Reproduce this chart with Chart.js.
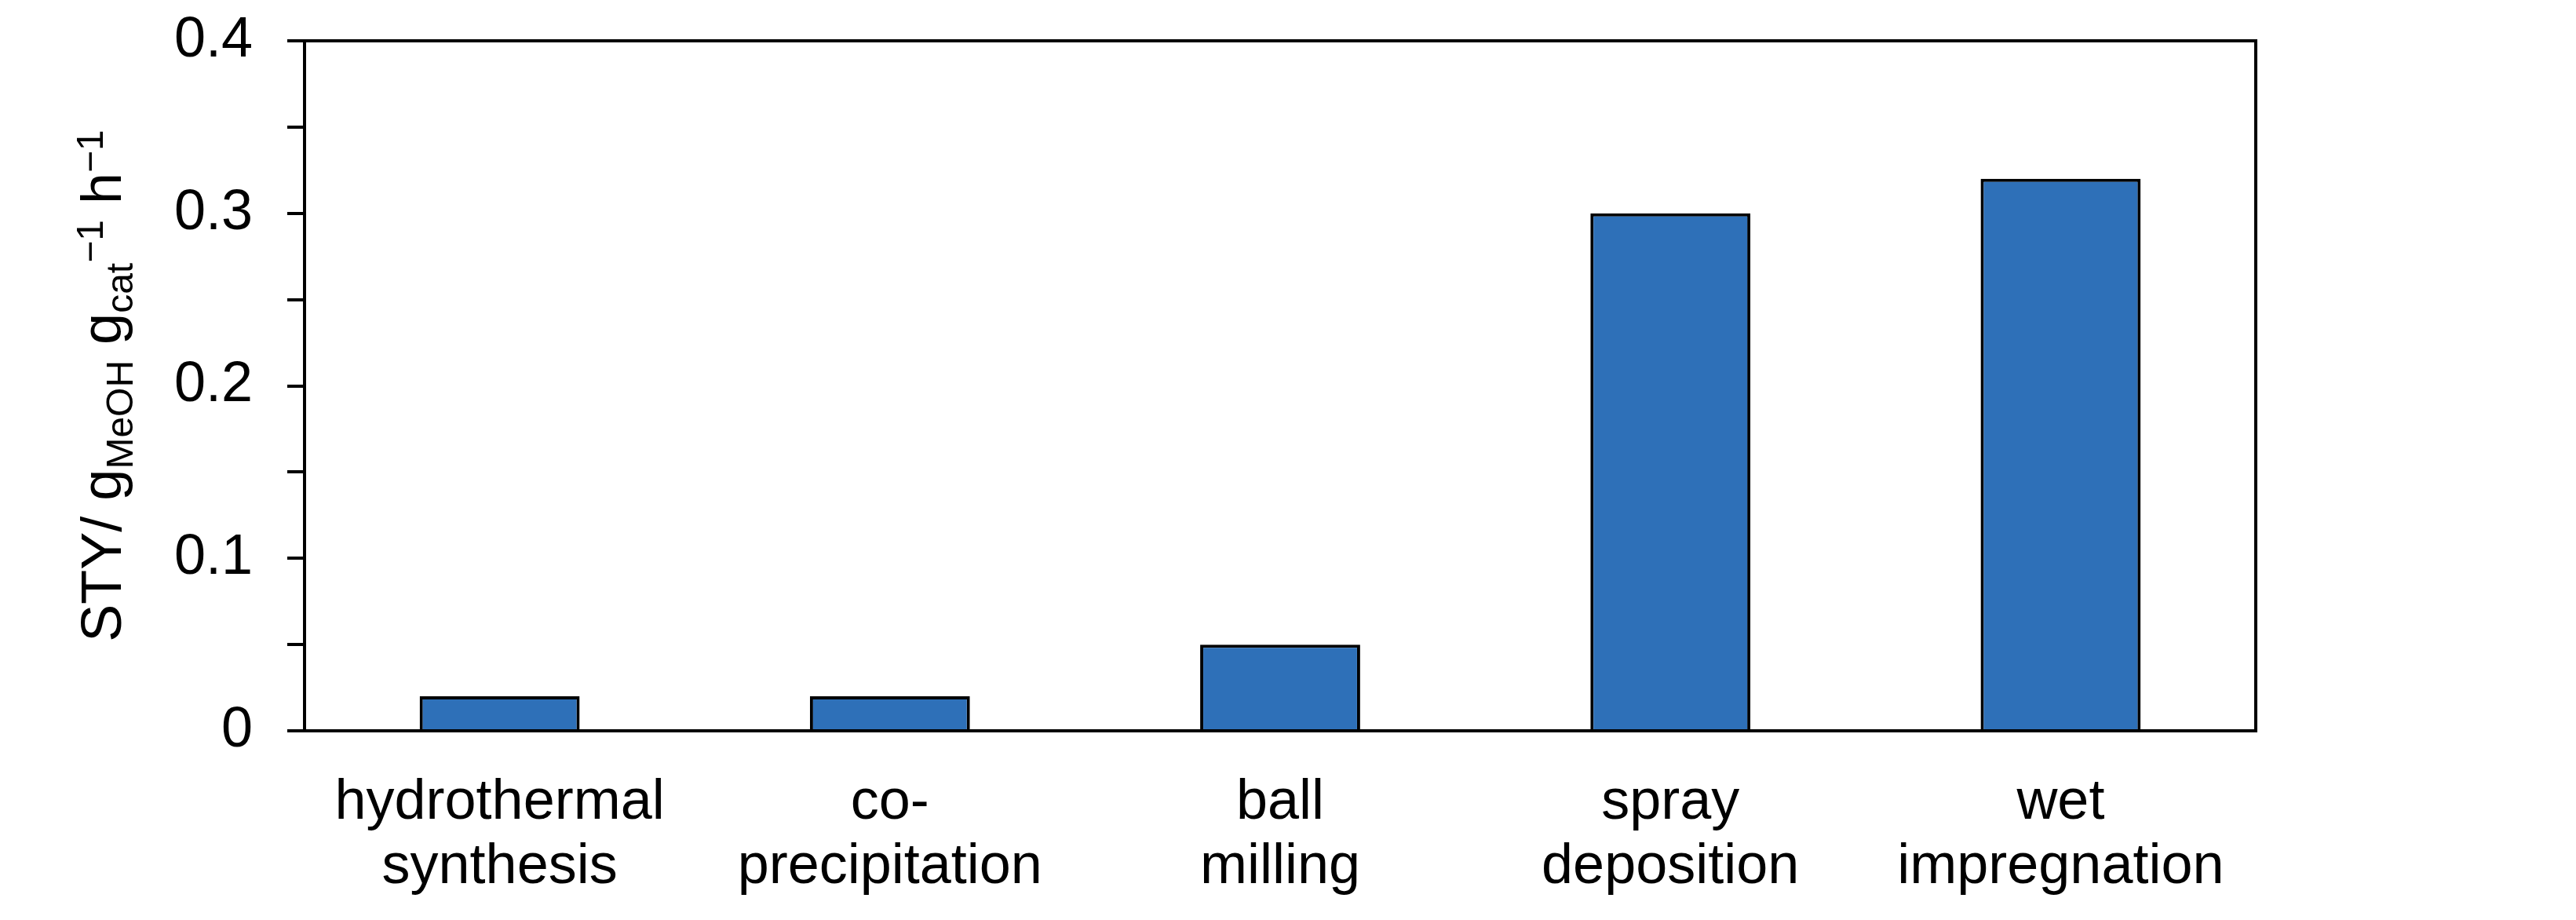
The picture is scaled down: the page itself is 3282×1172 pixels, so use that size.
<!DOCTYPE html>
<html>
<head>
<meta charset="utf-8">
<title>STY by synthesis method</title>
<script src="https://cdn.jsdelivr.net/npm/chart.js@4/dist/chart.umd.min.js"></script>
<style>
    html, body { margin: 0; padding: 0; background: #fff; }
    canvas { display: block; }
</style>
</head>
<body>
<canvas id="styChart" width="3282" height="1172"></canvas>
<script>
/* ── Data ─────────────────────────────────────────────────────── */
const methods = [
    ['hydrothermal', 'synthesis'],
    ['co-', 'precipitation'],
    ['ball', 'milling'],
    ['spray', 'deposition'],
    ['wet', 'impregnation']
];
const styValues  = [0.02, 0.02, 0.05, 0.30, 0.32];
const yMin       = 0;
const yMax       = 0.4;
const yStep      = 0.05;   // every tick mark
const yLabelStep = 0.1;    // only these get a label

const FONT = "'Liberation Sans', Arial, sans-serif";

/* ── Plot frame (box around the chart area) ───────────────────── */
const frame = {
    id: 'frame',
    afterDatasetsDraw(chart) {
        const { ctx, chartArea: a } = chart;
        ctx.save();
        ctx.strokeStyle = '#000';
        ctx.lineWidth = 4;
        ctx.strokeRect(a.left, a.top, a.right - a.left, a.bottom - a.top);
        ctx.restore();
    }
};

/* ── Y title with sub- and superscripts ───────────────────────── */
const yTitle = {
    id: 'yTitle',
    afterDraw(chart) {
        const { ctx, chartArea: a } = chart;
        const big = '72px ' + FONT, small = '48px ' + FONT;
        const parts = [
            { t: 'STY/ g', f: big,   dy: 0 },
            { t: 'MeOH',   f: small, dy: 15 },
            { t: ' g',     f: big,   dy: 0 },
            { t: 'cat',    f: small, dy: 15 },
            { t: '\u22121', f: small, dy: -23 },
            { t: ' h',     f: big,   dy: 0 },
            { t: '\u22121', f: small, dy: -23 }
        ];
        ctx.save();
        let total = 0;
        parts.forEach(p => { ctx.font = p.f; p.w = ctx.measureText(p.t).width; total += p.w; });
        ctx.translate(154, (a.top + a.bottom) / 2);
        ctx.rotate(-Math.PI / 2);
        ctx.fillStyle = '#000';
        ctx.textBaseline = 'alphabetic';
        ctx.textAlign = 'left';
        let x = -total / 2;
        parts.forEach(p => {
            ctx.font = p.f;
            ctx.fillText(p.t, x, p.dy);
            x += p.w;
        });
        ctx.restore();
    }
};

/* ── Chart ────────────────────────────────────────────────────── */
new Chart(document.getElementById('styChart'), {
    type: 'bar',
    data: {
        labels: methods,
        datasets: [{
            data: styValues,
            backgroundColor: '#2e70b8',
            borderColor: '#000',
            borderWidth: 4,
            categoryPercentage: 1,
            barPercentage: 0.41
        }]
    },
    options: {
        responsive: false,
        animation: false,
        devicePixelRatio: 1,
        layout: { padding: { top: 52, right: 408, left: 0, bottom: 0 } },
        plugins: {
            legend: { display: false },
            tooltip: { enabled: false }
        },
        scales: {
            x: {
                grid: { display: false, drawTicks: false },
                border: { display: false },
                ticks: {
                    color: '#000',
                    font: { family: FONT, size: 72, lineHeight: 1.14 },
                    padding: 51,
                    maxRotation: 0,
                    autoSkip: false
                },
                afterFit: s => { s.height = 241; s.paddingLeft = 0; s.paddingRight = 0; }
            },
            y: {
                min: yMin,
                max: yMax,
                border: { display: false },
                grid: {
                    drawOnChartArea: false,
                    drawTicks: true,
                    tickLength: 22,
                    color: '#000',
                    lineWidth: 4
                },
                ticks: {
                    stepSize: yStep,
                    color: '#000',
                    font: { family: FONT, size: 72 },
                    padding: 44,
                    callback: v => {
                        const n = Math.round(v * 100);
                        if (n % Math.round(yLabelStep * 100) !== 0) return '';
                        return n === 0 ? '0' : (n / 100).toFixed(1);
                    }
                },
                afterFit: s => { s.width = 388; s.paddingTop = 0; s.paddingBottom = 0; }
            }
        }
    },
    plugins: [frame, yTitle]
});
</script>
</body>
</html>
